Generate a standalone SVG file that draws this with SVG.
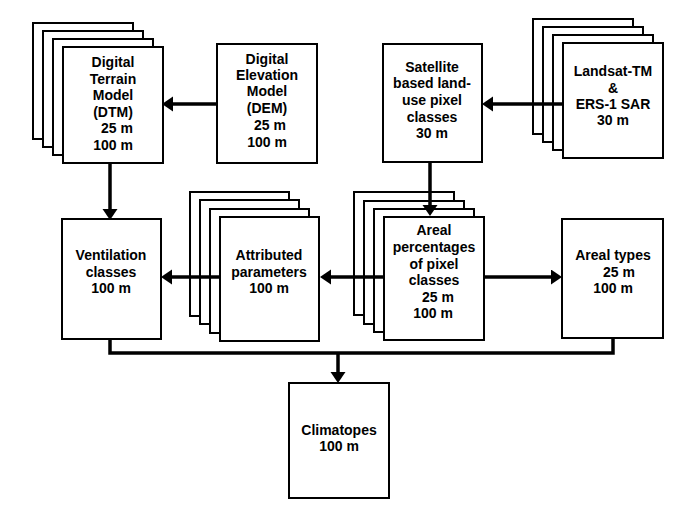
<svg xmlns="http://www.w3.org/2000/svg" width="691" height="529" viewBox="0 0 691 529">
<style>
.b{fill:#fff;stroke:#000;stroke-width:2}
.t{font-family:"Liberation Sans",Arial,Helvetica,sans-serif;font-weight:bold;font-size:14px;text-anchor:middle;fill:#000}
.c{fill:none;stroke:#000;stroke-width:3.5}
</style>
<defs>
<marker id="ah" markerUnits="userSpaceOnUse" markerWidth="12" markerHeight="16" refX="0" refY="7.5" orient="auto">
<path d="M0,0 L11,7.5 L0,15 z" fill="#000"/>
</marker>
</defs>
<rect width="691" height="529" fill="#fff"/>
<g id="dtm">
<rect class="b" x="33" y="23" width="100" height="116"/>
<rect class="b" x="43" y="31" width="100" height="116"/>
<rect class="b" x="53" y="39" width="100" height="116"/>
<rect class="b" x="63" y="47" width="100" height="116"/>
<text class="t" x="113" y="67">Digital</text>
<text class="t" x="113" y="84">Terrain</text>
<text class="t" x="113" y="100">Model</text>
<text class="t" x="113" y="117">(DTM)</text>
<text class="t" x="117" y="133">25 m</text>
<text class="t" x="113" y="150">100 m</text>
</g>
<g id="dem">
<rect class="b" x="217" y="44" width="100" height="119"/>
<text class="t" x="267" y="64">Digital</text>
<text class="t" x="267" y="80">Elevation</text>
<text class="t" x="267" y="96">Model</text>
<text class="t" x="267" y="113">(DEM)</text>
<text class="t" x="270" y="130">25 m</text>
<text class="t" x="267" y="147">100 m</text>
</g>
<g id="satellite">
<rect class="b" x="383" y="44" width="99" height="118"/>
<text class="t" x="432" y="72">Satellite</text>
<text class="t" x="432" y="88">based land-</text>
<text class="t" x="432" y="105">use pixel</text>
<text class="t" x="432" y="122">classes</text>
<text class="t" x="432" y="138">30 m</text>
</g>
<g id="landsat">
<rect class="b" x="533" y="19" width="100" height="115"/>
<rect class="b" x="543" y="27" width="100" height="115"/>
<rect class="b" x="553" y="35" width="100" height="115"/>
<rect class="b" x="563" y="43" width="100" height="115"/>
<text class="t" x="613" y="76">Landsat-TM</text>
<text class="t" x="613" y="93">&amp;</text>
<text class="t" x="613" y="109">ERS-1 SAR</text>
<text class="t" x="613" y="125">30 m</text>
</g>
<g id="ventilation">
<rect class="b" x="62" y="219" width="99" height="120"/>
<text class="t" x="111" y="260">Ventilation</text>
<text class="t" x="111" y="277">classes</text>
<text class="t" x="111" y="293">100 m</text>
</g>
<g id="attributed-stack">
<rect class="b" x="190" y="192" width="99" height="124"/>
<rect class="b" x="200" y="200" width="99" height="124"/>
<rect class="b" x="210" y="209" width="99" height="124"/>
</g>
<g id="arealpct-stack">
<rect class="b" x="354" y="192" width="100" height="123"/>
<rect class="b" x="364" y="201" width="100" height="123"/>
<rect class="b" x="374" y="209" width="100" height="123"/>
</g>
<g id="connectors">
<line class="c" x1="217" y1="104" x2="173" y2="104" marker-end="url(#ah)"/>
<line class="c" x1="563" y1="104" x2="493" y2="104" marker-end="url(#ah)"/>
<line class="c" x1="110" y1="163" x2="110" y2="209" marker-end="url(#ah)"/>
<line class="c" x1="430" y1="162" x2="430" y2="205" marker-end="url(#ah)"/>
<line class="c" x1="384" y1="277" x2="331" y2="277" marker-end="url(#ah)"/>
<line class="c" x1="220" y1="277" x2="172" y2="277" marker-end="url(#ah)"/>
<line class="c" x1="484" y1="277" x2="551" y2="277" marker-end="url(#ah)"/>
<polyline class="c" points="110,339 110,353 613,353 613,338"/>
<line class="c" x1="338" y1="353" x2="338" y2="372" marker-end="url(#ah)"/>
</g>
<g id="attributed">
<rect class="b" x="220" y="217" width="99" height="124"/>
<text class="t" x="269" y="260">Attributed</text>
<text class="t" x="269" y="277">parameters</text>
<text class="t" x="269" y="293">100 m</text>
</g>
<g id="arealpct">
<rect class="b" x="384" y="217" width="100" height="123"/>
<text class="t" x="434" y="235">Areal</text>
<text class="t" x="434" y="252">percentages</text>
<text class="t" x="434" y="269">of pixel</text>
<text class="t" x="434" y="285">classes</text>
<text class="t" x="438" y="302">25 m</text>
<text class="t" x="433" y="318">100 m</text>
</g>
<g id="arealtypes">
<rect class="b" x="562" y="219" width="101" height="119"/>
<text class="t" x="613" y="260">Areal types</text>
<text class="t" x="619" y="277">25 m</text>
<text class="t" x="613" y="293">100 m</text>
</g>
<g id="climatopes">
<rect class="b" x="289" y="383" width="100" height="115"/>
<text class="t" x="339" y="435">Climatopes</text>
<text class="t" x="339" y="451">100 m</text>
</g>
</svg>
